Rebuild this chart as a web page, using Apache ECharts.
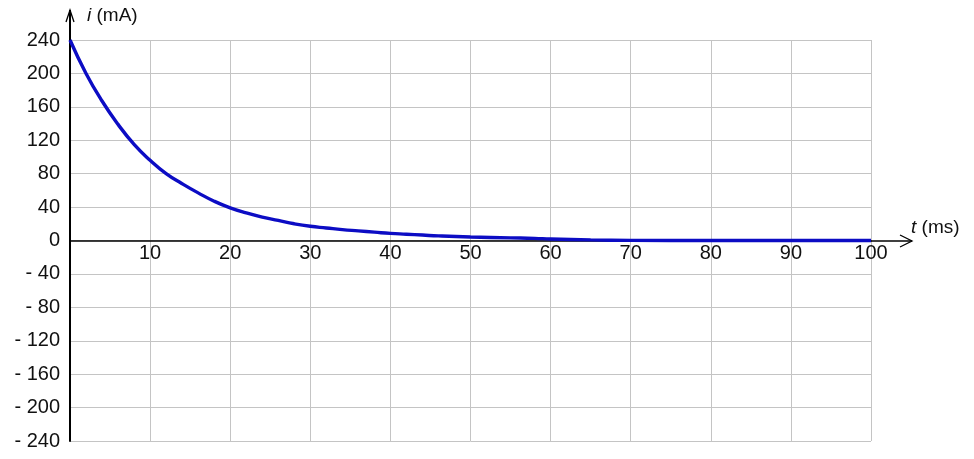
<!DOCTYPE html>
<html>
<head>
<meta charset="utf-8">
<title>i(t)</title>
<script src="https://cdn.jsdelivr.net/npm/echarts@6/dist/echarts.min.js"></script>
<style>
  html, body { margin: 0; padding: 0; background: #fff; }
  #chart { width: 974px; height: 459px; }
</style>
</head>
<body>
<div id="chart"></div>
<script>
// Discharge current i (mA) against time t (ms)
const timeMs = [0, 2, 4, 6, 8, 10, 12, 14, 16, 18, 20, 22, 24, 26, 28, 30, 32, 34, 36, 38, 40,
                42, 44, 46, 50, 55, 58, 60, 65, 70, 80, 90, 100];
const currentMa = [240, 200, 167, 139, 115, 96, 80, 68, 57, 47, 39, 33, 28, 24, 20, 17, 15, 13, 11.5, 10, 8.5,
                   7.5, 6.5, 5.5, 4.2, 3.2, 2.6, 1.8, 0.7, 0.2, 0, 0, 0];
const xTicks = { min: 0, max: 100, step: 10 };
const yTicks = { min: -240, max: 240, step: 40 };
const xName = 't';
const xUnit = ' (ms)';
const yName = 'i';
const yUnit = ' (mA)';

const FONT = 'Liberation Sans, Arial, sans-serif';
const GRID = { left: 70, top: 40, right: 103, bottom: 18 };
const plotH = 459 - GRID.top - GRID.bottom;
// the time axis sits on i = 0, halfway up the symmetric value range
const zeroLift = plotH * (0 - yTicks.min) / (yTicks.max - yTicks.min);

const chart = echarts.init(document.getElementById('chart'), null, { renderer: 'canvas' });

chart.setOption({
  animation: false,
  backgroundColor: '#ffffff',
  grid: Object.assign({ containLabel: false, outerBoundsMode: 'none' }, GRID),
  xAxis: {
    type: 'value',
    position: 'bottom',
    offset: -zeroLift,
    min: xTicks.min, max: xTicks.max, interval: xTicks.step,
    axisLine: { show: true, onZero: false, lineStyle: { color: '#000', width: 1.5 } },
    axisTick: { show: false },
    axisLabel: {
      showMinLabel: false,
      margin: 3,
      color: '#111',
      fontFamily: FONT,
      fontSize: 20,
      formatter: v => (v === 0 ? '' : String(v))
    },
    splitLine: { show: true, lineStyle: { color: '#c4c4c4', width: 1 } }
  },
  yAxis: {
    type: 'value',
    min: yTicks.min, max: yTicks.max, interval: yTicks.step,
    axisLine: { show: true, onZero: false, lineStyle: { color: '#000', width: 2 } },
    axisTick: { show: false },
    axisLabel: {
      margin: 10,
      color: '#111',
      fontFamily: FONT,
      fontSize: 20,
      formatter: v => (v < 0 ? '- ' + Math.abs(v) : String(v))
    },
    splitLine: { show: true, lineStyle: { color: '#c4c4c4', width: 1 } }
  },
  series: [{
    type: 'line',
    data: timeMs.map((t, k) => [t, currentMa[k]]),
    smooth: 0.5,
    showSymbol: false,
    lineStyle: { color: '#0c0cc4', width: 3.4 },
    z: 5
  }]
});

// Axis arrows and names, placed from the axis ends
const yTop = chart.convertToPixel({ gridIndex: 0 }, [xTicks.min, yTicks.max]);
const xEnd = chart.convertToPixel({ gridIndex: 0 }, [xTicks.max, 0]);
const ax = Math.round(yTop[0]);
const ay = Math.round(xEnd[1]);
const arrowStyle = { stroke: '#000', lineWidth: 1.3, fill: null };
const nameStyle = (name, unit) => ({
  text: '{n|' + name + '}' + unit,
  fontFamily: FONT, fontSize: 19, fill: '#111', verticalAlign: 'middle',
  rich: { n: { fontStyle: 'italic', fontFamily: FONT, fontSize: 19, fill: '#111' } }
});

chart.setOption({
  graphic: [
    { type: 'line', shape: { x1: ax, y1: yTop[1], x2: ax, y2: yTop[1] - 30 }, style: { stroke: '#000', lineWidth: 2 } },
    { type: 'polyline', shape: { points: [[ax - 4, yTop[1] - 18], [ax, yTop[1] - 30], [ax + 4, yTop[1] - 18]] }, style: arrowStyle },
    { type: 'line', shape: { x1: xEnd[0], y1: ay, x2: xEnd[0] + 41, y2: ay }, style: { stroke: '#000', lineWidth: 1.3 } },
    { type: 'polyline', shape: { points: [[xEnd[0] + 29, ay - 6], [xEnd[0] + 41, ay], [xEnd[0] + 29, ay + 6]] }, style: arrowStyle },
    { type: 'text', x: ax + 17, y: yTop[1] - 24, style: nameStyle(yName, yUnit) },
    { type: 'text', x: xEnd[0] + 40, y: ay - 13, style: nameStyle(xName, xUnit) }
  ]
});
</script>
</body>
</html>
